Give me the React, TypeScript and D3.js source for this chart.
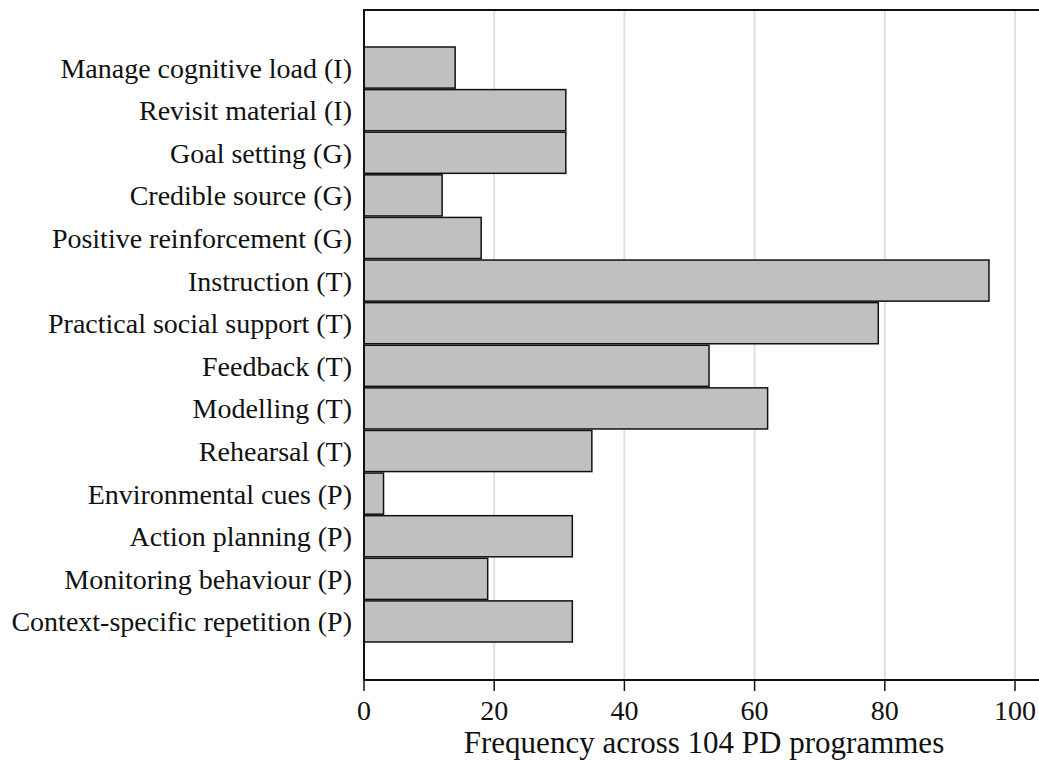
import * as d3 from 'd3';

const categories = [
  'Manage cognitive load (I)',
  'Revisit material (I)',
  'Goal setting (G)',
  'Credible source (G)',
  'Positive reinforcement (G)',
  'Instruction (T)',
  'Practical social support (T)',
  'Feedback (T)',
  'Modelling (T)',
  'Rehearsal (T)',
  'Environmental cues (P)',
  'Action planning (P)',
  'Monitoring behaviour (P)',
  'Context-specific repetition (P)',
];

const frequencies = [14, 31, 31, 12, 18, 96, 79, 53, 62, 35, 3, 32, 19, 32];

const xTicks = [0, 20, 40, 60, 80, 100];

const axisTitle = 'Frequency across 104 PD programmes';

const width = 1039;
const height = 760;
const plot = { left: 364, right: 1039, top: 10, bottom: 680 };
const font = '"Liberation Serif", "Times New Roman", serif';

export default function App() {
  const x = d3.scaleLinear().domain([0, 100]).range([plot.left, 1015]);

  const y = d3
    .scaleBand<string>()
    .domain(categories)
    .range([plot.top + 37, plot.bottom - 38])
    .paddingInner(0.035)
    .paddingOuter(0);

  return (
    <svg
      width={width}
      height={height}
      style={{ position: 'absolute', left: 0, top: 0, background: '#fff' }}
      fontFamily={font}
    >
      {/* grid */}
      {xTicks.slice(1).map((t) => (
        <line
          key={'g' + t}
          x1={x(t)}
          x2={x(t)}
          y1={plot.top}
          y2={plot.bottom}
          stroke="#e0e0e0"
          strokeWidth={2}
        />
      ))}

      {/* bars */}
      {categories.map((c, i) => (
        <g key={c}>
          <rect
            x={x(0)}
            y={y(c)}
            width={x(frequencies[i]) - x(0)}
            height={y.bandwidth()}
            fill="#c0c0c0"
            stroke="#111"
            strokeWidth={1.5}
          />
          <text
            x={plot.left - 12}
            y={(y(c) ?? 0) + y.bandwidth() / 2 + 10}
            textAnchor="end"
            fontSize={28}
            fill="#111"
          >
            {c}
          </text>
        </g>
      ))}

      {/* frame lines */}
      <line x1={plot.left} x2={plot.right} y1={plot.top} y2={plot.top} stroke="#111" strokeWidth={2} />
      <line x1={plot.left} x2={plot.right} y1={plot.bottom} y2={plot.bottom} stroke="#111" strokeWidth={2} />
      <line x1={plot.left} x2={plot.left} y1={plot.top - 1} y2={plot.bottom + 1} stroke="#111" strokeWidth={2} />

      {/* x ticks */}
      {xTicks.map((t) => (
        <g key={'t' + t}>
          <line x1={x(t)} x2={x(t)} y1={plot.bottom} y2={plot.bottom + 11} stroke="#111" strokeWidth={1.5} />
          <text x={x(t)} y={720} textAnchor="middle" fontSize={28} fill="#111">
            {t}
          </text>
        </g>
      ))}

      <text x={(463 + 945) / 2} y={753} textAnchor="middle" fontSize={31} fill="#111">
        {axisTitle}
      </text>
    </svg>
  );
}
